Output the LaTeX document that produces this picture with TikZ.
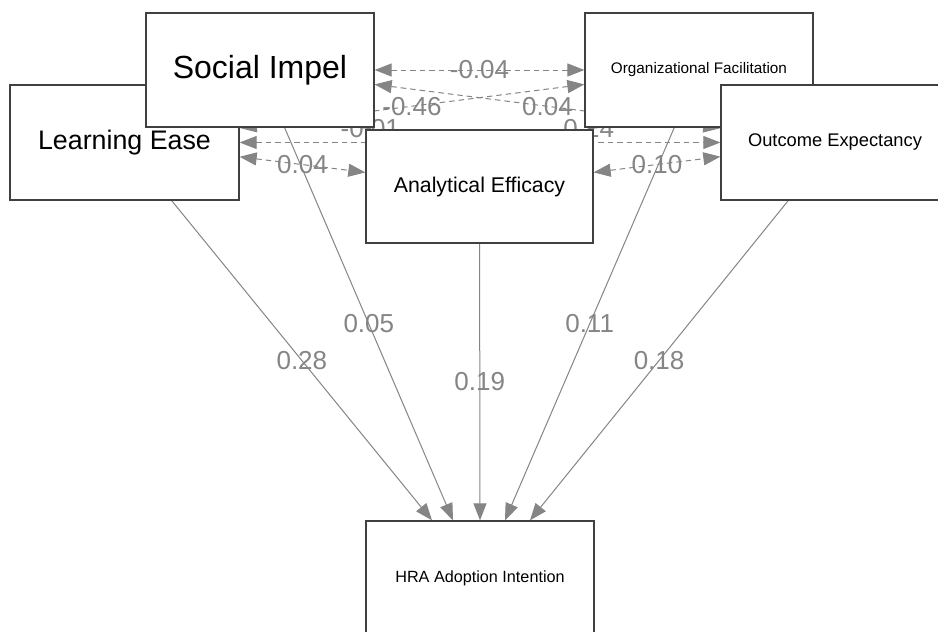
\documentclass[tikz,border=0pt]{standalone}
\usepackage{fontspec}
\setmainfont{Liberation Sans}
\usetikzlibrary{arrows.meta,calc,backgrounds}
\definecolor{edgegrey}{HTML}{858585}
\definecolor{boxline}{HTML}{404040}
\begin{document}
\begin{tikzpicture}[x=1pt,y=-1pt,
  box/.style={draw=boxline, line width=1.3pt, fill=white, inner sep=0pt, text=black, align=center},
  tip/.tip={Triangle[length=17pt,width=13pt]},
  solidarrow/.style={draw=edgegrey, line width=1pt, -tip},
  covarrow/.style={draw=edgegrey, line width=1pt, dash pattern=on 5.5pt off 4pt, tip-tip},
  lbl/.style={text=edgegrey, font=\fontsize{26}{26}\selectfont, inner sep=0pt}]
\useasboundingbox (0,0) rectangle (938,632);

% boxes (drawing order gives the overlaps)
\node[box, minimum width=229pt, minimum height=115pt, font=\fontsize{26.8}{30}\selectfont] (le) at (124.5,142.5) {Learning Ease};
\node[box, minimum width=228pt, minimum height=114pt, font=\fontsize{32}{36}\selectfont] (si) at (260,70) {Social Impel};
\node[box, minimum width=228pt, minimum height=114pt, font=\fontsize{15.3}{18}\selectfont] (of) at (699,70) {Organizational Facilitation};
\node[box, minimum width=228pt, minimum height=115pt, font=\fontsize{18.3}{22}\selectfont] (oe) at (835,142.5) {Outcome Expectancy};
\node[box, minimum width=227pt, minimum height=113pt, font=\fontsize{21.3}{25}\selectfont] (ae) at (479.5,186.5) {Analytical Efficacy};
\node[box, minimum width=228pt, minimum height=114pt, font=\fontsize{16.2}{19}\selectfont] (hra) at (480,578) {HRA Adoption Intention};

\coordinate (t1) at ($(hra.north)+(-48,0)$);
\coordinate (t2) at ($(hra.north)+(-27,0)$);
\coordinate (t3) at ($(hra.north)+(0,0)$);
\coordinate (t4) at ($(hra.north)+(25,0)$);
\coordinate (t5) at ($(hra.north)+(50,0)$);

\begin{scope}[on background layer]
  \fill[white] (0,0) rectangle (938,632);
  % covariances
  \draw[covarrow] (si) -- node[lbl]{-0.04} (of);
  \draw[covarrow] (of) -- node[lbl]{-0.46} (le);
  \draw[covarrow] (si) -- node[lbl]{0.04} (oe);
  \draw[covarrow] (le) -- node[lbl]{0.04} (ae);
  \draw[covarrow] (ae) -- node[lbl]{0.10} (oe);
  \draw[covarrow] (le) -- (oe);
  \draw[covarrow] (si) -- node[lbl]{-0.01} (ae);
  \draw[covarrow] (of) -- node[lbl]{0.14} (ae);
  % paths to the outcome
  \draw[solidarrow] (le) -- node[lbl]{0.28} (t1);
  \draw[solidarrow] (si) -- node[lbl]{0.05} (t2);
  \draw[solidarrow] (ae) -- node[lbl]{0.19} (t3);
  \draw[solidarrow] (of) -- node[lbl]{0.11} (t4);
  \draw[solidarrow] (oe) -- node[lbl]{0.18} (t5);
\end{scope}
\end{tikzpicture}
\end{document}
